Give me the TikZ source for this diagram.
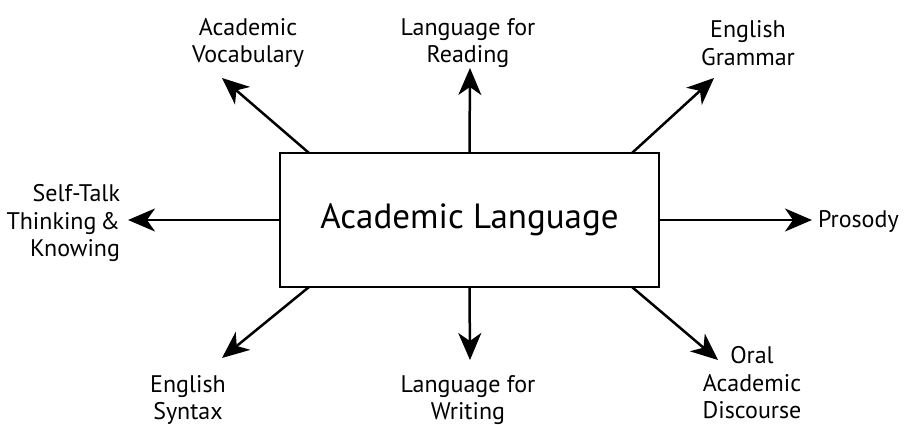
\documentclass[tikz,border=0pt]{standalone}
\usepackage{fontspec}
\setmainfont{PT Sans}
\usetikzlibrary{arrows.meta}

\begin{document}
\begin{tikzpicture}[y=-1pt, x=1pt, inner sep=0pt, outer sep=0pt,
  topic/.style={align=center, font=\fontsize{24}{27.5}\selectfont},
  spoke/.style={line width=2.5pt, -{Stealth[length=27pt,width=23pt,inset=8pt]}}]
  \useasboundingbox (0,0) rectangle (906,425);
  % centre box
  \node[draw, line width=2.6pt, minimum width=379pt, minimum height=134pt,
    font=\fontsize{35}{40}\selectfont] (lang) at (469.5,220) {Academic Language};
  % labels
  \node[topic] (vocab) at (248,43) {Academic\\Vocabulary};
  \node[topic] (reading) at (468,43) {Language for\\Reading};
  \node[topic] (grammar) at (748,43) {English\\Grammar};
  \node[topic, align=right, anchor=east] (self) at (120,223) {Self-Talk\\Thinking\,\&\\Knowing};
  \node[topic, anchor=west] (prosody) at (818,221) {Prosody};
  \node[topic] (syntax) at (188,400) {English\\Syntax};
  \node[topic] (writing) at (468,400) {Language for\\Writing};
  \node[topic] (discourse) at (752,383) {Oral\\Academic\\Discourse};
  % arrow tips
  \coordinate (vocab-tip) at (222,78);
  \coordinate (reading-tip) at (470,68);
  \coordinate (grammar-tip) at (714,78);
  \coordinate (self-tip) at (128,220);
  \coordinate (prosody-tip) at (812,220);
  \coordinate (syntax-tip) at (222,358);
  \coordinate (writing-tip) at (470,360);
  \coordinate (discourse-tip) at (718,360);
  % spokes
  \draw[spoke] ([xshift=29pt]lang.north west) -- (vocab-tip);
  \draw[spoke] (lang.north) -- (reading-tip);
  \draw[spoke] ([xshift=-27pt]lang.north east) -- (grammar-tip);
  \draw[spoke] (lang.west) -- (self-tip);
  \draw[spoke] (lang.east) -- (prosody-tip);
  \draw[spoke] ([xshift=29pt]lang.south west) -- (syntax-tip);
  \draw[spoke] (lang.south) -- (writing-tip);
  \draw[spoke] ([xshift=-27pt]lang.south east) -- (discourse-tip);
\end{tikzpicture}
\end{document}
